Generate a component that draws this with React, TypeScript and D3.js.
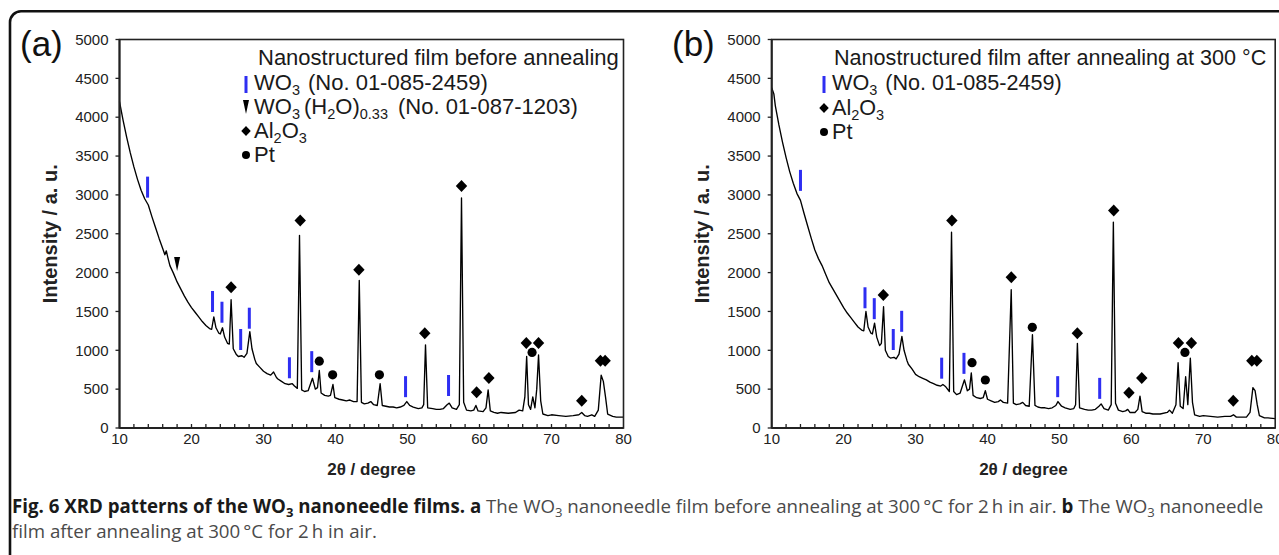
import React from 'react';
import * as d3 from 'd3';

// ---------- data ----------
const X_TICK_LABELS = [10, 20, 30, 40, 50, 60, 70, 80];
const Y_TICK_LABELS = [0, 500, 1000, 1500, 2000, 2500, 3000, 3500, 4000, 4500, 5000];

// Panel (a): before annealing
const twoThetaA = [10.0,10.5,11.0,11.5,12.0,12.5,13.0,13.5,14.0,14.5,15.0,15.5,16.0,16.3,16.5,16.7,17.0,17.5,18.0,18.5,19.0,19.5,20.0,20.5,21.0,21.5,22.0,22.5,22.8,23.1,23.4,23.8,24.0,24.3,24.6,25.0,25.25,25.5,25.8,26.2,26.5,27.0,27.3,27.7,28.1,28.4,28.8,29.0,29.5,30.0,30.5,31.0,31.4,31.8,32.0,32.5,33.0,33.5,34.0,34.3,34.7,35.0,35.3,35.7,36.2,36.8,37.2,37.5,37.75,38.0,38.5,39.0,39.3,39.65,39.9,40.5,41.0,41.5,42.0,42.5,43.0,43.3,43.6,44.0,44.5,44.9,45.3,45.8,46.2,46.5,47.0,47.5,48.0,48.5,49.0,49.5,49.9,50.3,50.8,51.5,52.0,52.25,52.5,52.8,53.5,54.0,54.5,55.0,55.5,55.8,56.2,56.8,57.2,57.5,57.8,58.2,58.8,59.2,59.5,59.8,60.5,60.9,61.2,61.5,62.0,62.5,63.0,64.0,65.0,65.5,66.0,66.3,66.55,66.8,67.1,67.4,67.7,67.95,68.2,68.5,68.8,69.5,70.0,71.0,72.0,73.0,73.8,74.2,74.6,75.0,75.6,76.0,76.5,76.9,77.2,77.5,77.8,78.5,79.0,80.0];
const intensityA = [4200,3960,3740,3540,3360,3200,3060,2950,2870,2720,2580,2440,2310,2230,2280,2200,2090,1990,1880,1790,1700,1620,1550,1490,1430,1370,1320,1280,1270,1430,1290,1220,1210,1290,1170,1090,1080,1650,1020,950,920,930,910,960,1240,1020,880,830,780,730,700,680,720,650,630,600,570,560,570,540,510,2480,490,470,480,640,500,520,740,450,420,410,420,560,390,370,360,350,360,340,340,1900,330,310,320,340,300,290,570,290,280,270,270,260,270,290,340,290,270,250,260,300,1070,260,250,240,240,250,300,320,260,240,300,2960,330,230,220,230,290,220,210,260,490,220,200,190,200,190,200,230,220,400,920,300,240,400,260,500,940,350,180,160,170,160,150,160,170,200,160,150,170,150,230,680,600,400,180,150,140,140];

// Panel (b): after annealing at 300 °C
const twoThetaB = [10.0,10.3,10.5,11.0,11.5,12.0,12.5,13.0,13.5,14.0,14.5,15.0,15.5,16.0,16.5,17.0,17.5,18.0,18.5,19.0,19.5,20.0,20.5,21.0,21.5,22.0,22.5,22.8,23.1,23.4,23.8,24.0,24.3,24.6,25.0,25.25,25.55,25.8,26.2,26.5,27.0,27.3,27.7,28.1,28.4,28.8,29.0,29.5,30.0,30.5,31.0,31.5,32.0,32.5,33.0,33.5,33.8,34.2,34.7,35.0,35.3,35.7,36.2,36.8,37.2,37.5,37.75,38.0,38.5,39.0,39.4,39.7,40.0,40.5,41.0,41.5,41.8,42.2,42.8,43.3,43.6,44.0,44.5,44.9,45.3,45.8,46.25,46.6,47.0,47.5,48.0,48.5,49.0,49.5,49.8,50.3,50.8,51.5,52.0,52.25,52.5,52.8,53.5,54.0,54.5,55.0,55.5,55.8,56.2,56.8,57.2,57.5,57.8,58.2,58.8,59.2,59.5,59.8,60.5,60.9,61.2,61.5,62.0,62.5,63.0,64.0,65.0,65.3,65.7,66.2,66.5,66.8,67.2,67.55,67.85,68.2,68.5,68.8,69.5,70.0,71.0,72.0,73.0,73.8,74.2,74.6,75.0,76.0,76.5,76.9,77.2,77.5,77.8,78.5,79.0,80.0];
const intensityB = [4380,4300,4150,3900,3680,3480,3300,3150,3020,2930,2760,2600,2440,2290,2180,2090,1980,1870,1790,1710,1630,1550,1480,1420,1360,1300,1260,1250,1500,1300,1220,1210,1350,1170,1060,1090,1560,1000,920,900,910,890,950,1180,1000,870,820,760,690,660,640,620,590,570,550,540,560,530,470,2520,470,430,450,620,480,500,710,420,390,380,390,480,370,350,330,340,360,330,320,1780,320,300,310,330,290,280,1200,290,270,260,260,250,260,290,340,280,260,240,250,300,1090,260,240,230,230,240,280,310,250,230,300,2650,320,230,210,220,240,200,200,240,410,210,190,190,180,180,200,230,190,300,840,280,250,660,300,900,330,170,150,160,150,140,150,150,170,140,140,140,200,520,480,300,160,130,130,120];

// Phase markers: [2θ, intensity at marker centre]
const wo3BarsA = [[13.9, 3100], [22.92, 1628], [24.23, 1490], [26.83, 1139], [28.03, 1413], [33.6, 775], [36.7, 854], [49.73, 532], [55.7, 547]];
const wo3HydrateA = [[18.0, 2110]];
const al2o3A = [[25.5, 1811], [35.1, 2670], [43.25, 2036], [52.4, 1221], [57.5, 3116], [59.6, 459], [61.3, 643], [66.5, 1093], [68.2, 1093], [74.2, 352], [76.8, 866], [77.45, 866]];
const ptA = [[37.75, 860], [39.6, 684], [46.1, 684], [67.3, 973]];

const wo3BarsB = [[14.0, 3187], [22.97, 1676], [24.26, 1536], [26.9, 1139], [28.07, 1373], [33.63, 770], [36.73, 832], [49.76, 532], [55.6, 510]];
const al2o3B = [[25.52, 1712], [35.05, 2670], [43.31, 1939], [52.49, 1218], [57.55, 2799], [59.67, 455], [61.45, 643], [66.55, 1093], [68.35, 1093], [74.17, 350], [76.75, 866], [77.45, 866]];
const ptB = [[37.85, 841], [39.7, 618], [46.23, 1296], [67.45, 973]];

// ---------- styles ----------
const BLUE = '#2e2ef2';
const AXIS = '#222';
const FONT = "'Liberation Sans', Arial, Helvetica, sans-serif";

const diamondPath = (cx: number, cy: number, r = 6) =>
  `M${cx},${cy - r}L${cx + r * 0.95},${cy}L${cx},${cy + r}L${cx - r * 0.95},${cy}Z`;
const trianglePath = (cx: number, cy: number) =>
  `M${cx - 3},${cy - 7}L${cx + 3},${cy - 7}L${cx},${cy + 7}Z`;

function Panel(props: any) {
  const { left, right, top, bottom, tt, ii, bars, tri, diamonds, circles } = props;
  const x = d3.scaleLinear().domain([10, 80]).range([left, right]);
  const y = d3.scaleLinear().domain([0, 5000]).range([bottom, top]);
  const pts: [number, number][] = tt.map((t: number, i: number) => [t, ii[i]]);
  const line = d3.line<[number, number]>().x((d) => x(d[0])).y((d) => y(d[1]));
  const minor = d3.range(12, 80, 2);
  return (
    <g>
      <path d={line(pts) || ''} fill="none" stroke="#000" strokeWidth={1.35} strokeLinejoin="round" />
      <rect x={left} y={top} width={right - left} height={bottom - top} fill="none" stroke={AXIS} strokeWidth={1.6} />
      <line x1={left} x2={right} y1={bottom} y2={bottom} stroke={AXIS} strokeWidth={2} />
      <line x1={left} x2={left} y1={top} y2={bottom} stroke={AXIS} strokeWidth={2} />
      {minor.map((m: number) => (
        <line key={'m' + m} x1={x(m)} x2={x(m)} y1={bottom} y2={bottom - 4} stroke={AXIS} strokeWidth={1.3} />
      ))}
      {X_TICK_LABELS.map((v) => (
        <text key={'x' + v} x={x(v)} y={bottom + 15.5} textAnchor="middle" fontSize={15} fill="#222" fontFamily={FONT}>{v}</text>
      ))}
      {Y_TICK_LABELS.map((v) => (
        <g key={'y' + v}>
          <line x1={left - 4} x2={left} y1={y(v)} y2={y(v)} stroke={AXIS} strokeWidth={1.3} />
          <text x={left - 11} y={y(v)} dy="0.35em" textAnchor="end" fontSize={15} fill="#222" fontFamily={FONT}>{v}</text>
        </g>
      ))}
      <text x={(left + right) / 2} y={475} textAnchor="middle" fontSize={17} fontWeight="bold" fill="#222" fontFamily={FONT}>2θ / degree</text>
      <text transform={`translate(${left - 63},${(top + bottom) / 2}) rotate(-90)`} textAnchor="middle" fontSize={20} fontWeight="bold" fill="#222" fontFamily={FONT}>Intensity / a. u.</text>
      {bars.map((d: number[], i: number) => (
        <rect key={'b' + i} x={x(d[0]) - 1.5} y={y(d[1]) - 10.5} width={3} height={21} fill={BLUE} />
      ))}
      {tri.map((d: number[], i: number) => (
        <path key={'t' + i} d={trianglePath(x(d[0]), y(d[1]))} fill="#000" />
      ))}
      {diamonds.map((d: number[], i: number) => (
        <path key={'d' + i} d={diamondPath(x(d[0]), y(d[1]))} fill="#000" />
      ))}
      {circles.map((d: number[], i: number) => (
        <circle key={'c' + i} cx={x(d[0])} cy={y(d[1])} r={4.6} fill="#000" />
      ))}
    </g>
  );
}

const SUB = 14.5;

function LegendA() {
  const mx = 246, tx = 254;
  return (
    <g fontFamily={FONT} fontSize={22} fill="#1a1a1a">
      <text x={258} y={65}>Nanostructured film before annealing</text>
      <rect x={mx - 1.5} y={90 - 14} width={3} height={17} fill={BLUE} />
      <text x={tx} y={90}>WO<tspan fontSize={SUB} dy={5}>3</tspan><tspan dy={-5} dx={8}>(No. 01-085-2459)</tspan></text>
      <path d={trianglePath(mx, 114 - 7)} fill="#000" />
      <text x={tx} y={114}>WO<tspan fontSize={SUB} dy={5}>3</tspan><tspan dy={-5} dx={4}>(H</tspan><tspan fontSize={SUB} dy={5}>2</tspan><tspan dy={-5}>O)</tspan><tspan fontSize={SUB} dy={5}>0.33</tspan><tspan dy={-5} dx={10}>(No. 01-087-1203)</tspan></text>
      <path d={diamondPath(mx, 138 - 7, 5)} fill="#000" />
      <text x={tx} y={138}>Al<tspan fontSize={SUB} dy={5}>2</tspan><tspan dy={-5}>O</tspan><tspan fontSize={SUB} dy={5}>3</tspan></text>
      <circle cx={mx} cy={162 - 7} r={4} fill="#000" />
      <text x={tx} y={162}>Pt</text>
    </g>
  );
}

function LegendB() {
  const mx = 824, tx = 832;
  return (
    <g fontFamily={FONT} fontSize={21.6} fill="#1a1a1a">
      <text x={834} y={65}>Nanostructured film after annealing at 300 °C</text>
      <rect x={mx - 1.5} y={90 - 14} width={3} height={17} fill={BLUE} />
      <text x={tx} y={90}>WO<tspan fontSize={SUB} dy={5}>3</tspan><tspan dy={-5} dx={8}>(No. 01-085-2459)</tspan></text>
      <path d={diamondPath(mx, 115 - 7, 5)} fill="#000" />
      <text x={tx} y={115}>Al<tspan fontSize={SUB} dy={5}>2</tspan><tspan dy={-5}>O</tspan><tspan fontSize={SUB} dy={5}>3</tspan></text>
      <circle cx={mx} cy={139 - 7} r={4} fill="#000" />
      <text x={tx} y={139}>Pt</text>
    </g>
  );
}

// ---------- caption ----------
const CAP_FONT = "'Open Sans', 'Noto Sans', sans-serif";
const CAP_SIZE = 18.7;
const BOLD = '#1a1a1a';
const REG = '#4a4a4a';

function Caption() {
  const s = CAP_SIZE * 0.7;
  return (
    <g fontFamily={CAP_FONT} fontSize={CAP_SIZE}>
      <text x={12} y={513}>
        <tspan fontWeight="bold" fill={BOLD}>Fig. 6 XRD patterns of the WO</tspan><tspan fontWeight="bold" fill={BOLD} fontSize={s} dy={4}>3</tspan><tspan fontWeight="bold" fill={BOLD} dy={-4}> nanoneedle films. a </tspan><tspan fill={REG}>The WO</tspan><tspan fill={REG} fontSize={s} dy={4}>3</tspan><tspan fill={REG} dy={-4}> nanoneedle film before annealing at 300{'\u2009'}°C for 2{'\u2009'}h in air. </tspan><tspan fontWeight="bold" fill={BOLD}>b </tspan><tspan fill={REG}>The WO</tspan><tspan fill={REG} fontSize={s} dy={4}>3</tspan><tspan fill={REG} dy={-4}> nanoneedle</tspan>
      </text>
      <text x={12} y={538} fill={REG}>film after annealing at 300{'\u2009'}°C for 2{'\u2009'}h in air.</text>
    </g>
  );
}

export default function App() {
  return (
    <svg width={1279} height={555} style={{ position: 'absolute', left: 0, top: 0, background: '#fff' }}>
      <rect x={0} y={0} width={1279} height={555} fill="#fff" />
      <rect x={10} y={11.3} width={1400} height={700} rx={11} fill="none" stroke="#111" strokeWidth={2.6} />
      <text x={20} y={56} fontSize={35} fontFamily={FONT} fill="#111">(a)</text>
      <text x={672} y={56} fontSize={35} fontFamily={FONT} fill="#111">(b)</text>
      <Panel left={119.5} right={623.5} top={39.5} bottom={428} tt={twoThetaA} ii={intensityA}
        bars={wo3BarsA} tri={wo3HydrateA} diamonds={al2o3A} circles={ptA} />
      <Panel left={771.7} right={1275.2} top={39.5} bottom={428} tt={twoThetaB} ii={intensityB}
        bars={wo3BarsB} tri={[]} diamonds={al2o3B} circles={ptB} />
      <LegendA />
      <LegendB />
      <Caption />
    </svg>
  );
}
